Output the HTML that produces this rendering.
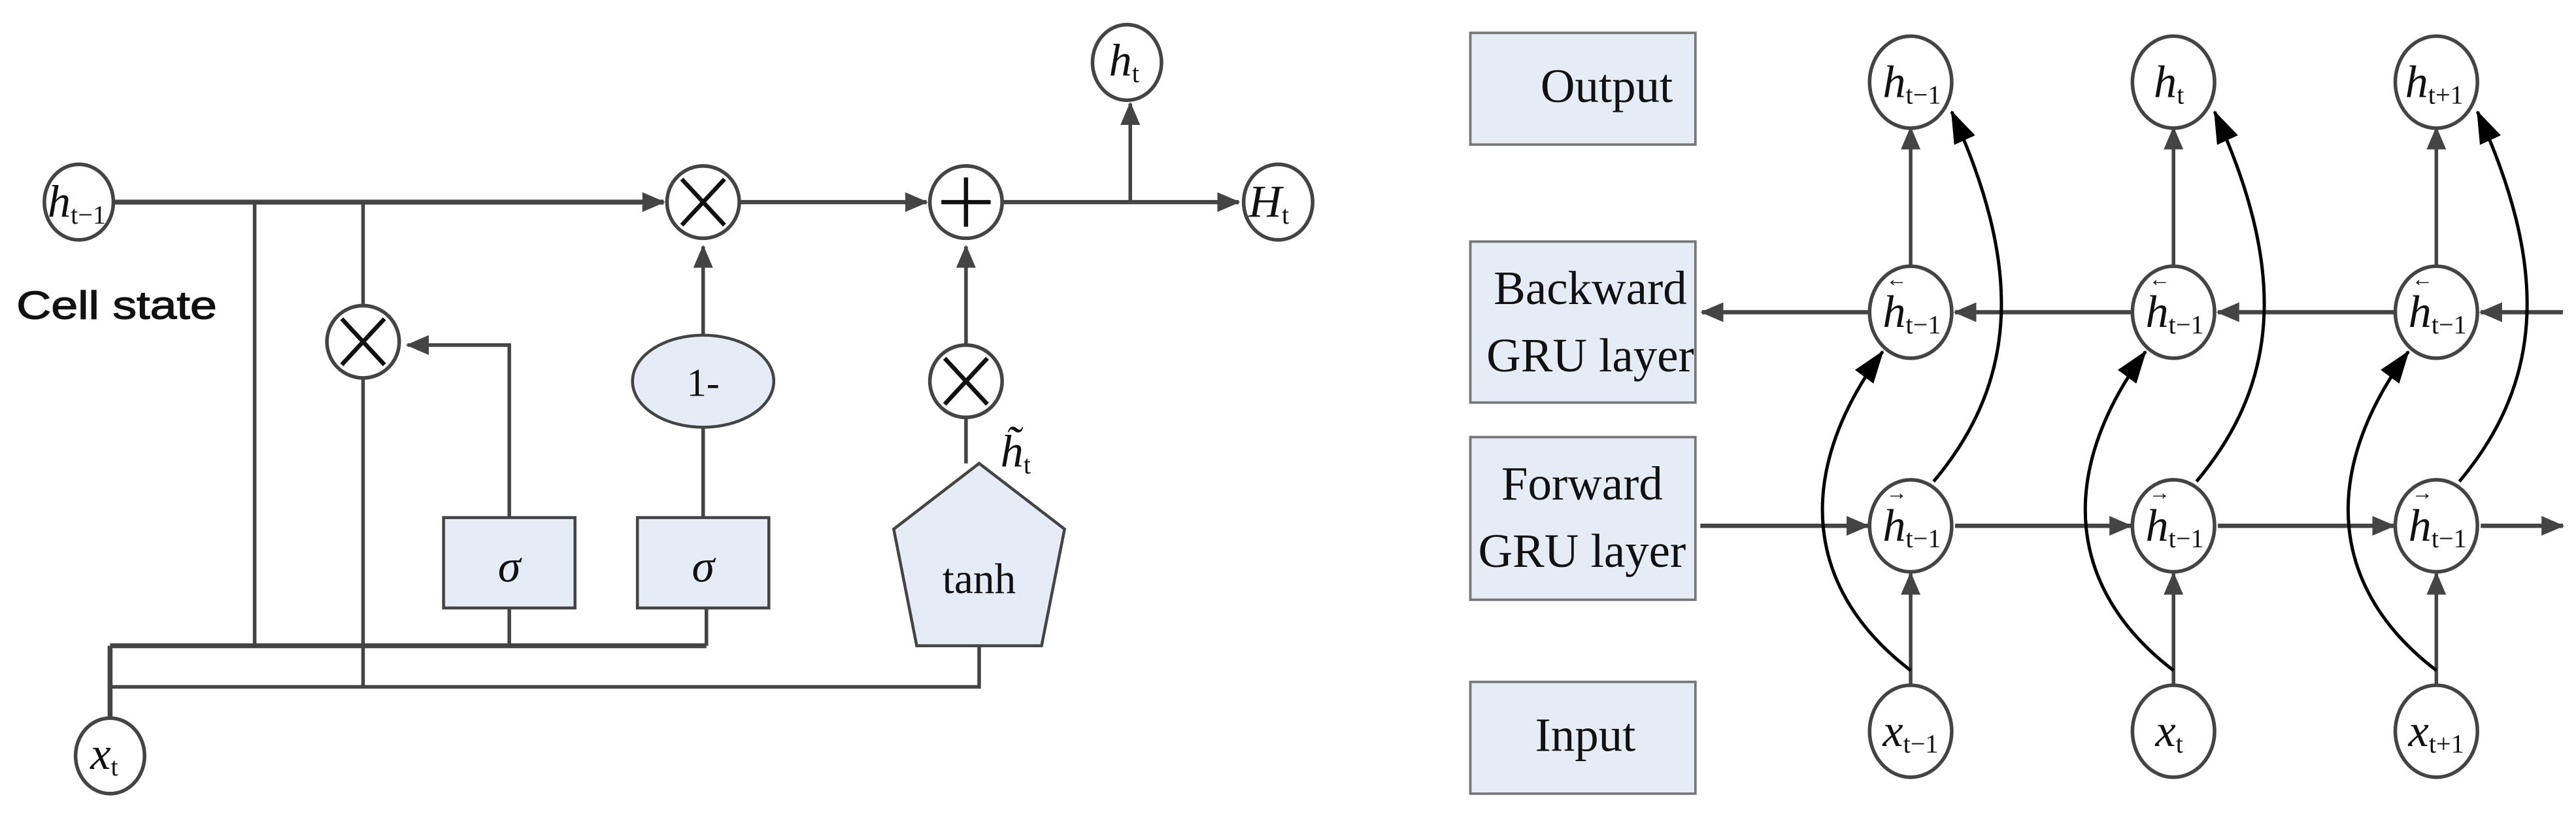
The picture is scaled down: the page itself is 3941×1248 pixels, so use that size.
<!DOCTYPE html>
<html><head><meta charset="utf-8"><style>
html,body{margin:0;padding:0;background:#fff;}
svg{display:block;}
text{font-family:"Liberation Serif",serif;fill:#111;}
</style></head><body>
<svg width="3941" height="1248" viewBox="0 0 1568 496.6" preserveAspectRatio="none" xmlns="http://www.w3.org/2000/svg">
<defs>
<marker id="ag" markerWidth="14" markerHeight="12" refX="13" refY="6" orient="auto" markerUnits="userSpaceOnUse" viewBox="0 0 14 12"><path d="M0,0 L14,6 L0,12 Z" fill="#444"/></marker>
<marker id="ab" markerWidth="20" markerHeight="14" refX="19" refY="7" orient="auto" markerUnits="userSpaceOnUse" viewBox="0 0 20 14"><path d="M0,0 L20,7 L0,14 Z" fill="#000"/></marker>
</defs>
<g stroke="#444" stroke-width="2.2" fill="none">
<line x1="69" y1="123" x2="404" y2="123" stroke-width="3" marker-end="url(#ag)"/>
<line x1="451" y1="123" x2="564" y2="123" stroke-width="2.6" marker-end="url(#ag)"/>
<line x1="611" y1="123" x2="754" y2="123" stroke-width="2.6" marker-end="url(#ag)"/>
<line x1="688" y1="123" x2="688" y2="63" marker-end="url(#ag)"/>
<line x1="155" y1="123" x2="155" y2="393"/>
<line x1="221" y1="123" x2="221" y2="186"/>
<line x1="221" y1="230" x2="221" y2="418"/>
<polyline points="310,315 310,210 248,210" marker-end="url(#ag)"/>
<line x1="428" y1="315" x2="428" y2="260"/>
<line x1="428" y1="204" x2="428" y2="150" marker-end="url(#ag)"/>
<line x1="588" y1="210" x2="588" y2="150" marker-end="url(#ag)"/>
<line x1="588" y1="254" x2="588" y2="282"/>
<line x1="67" y1="393" x2="430" y2="393" stroke-width="3"/>
<line x1="310" y1="370" x2="310" y2="393"/>
<line x1="430" y1="370" x2="430" y2="393"/>
<polyline points="67,418 596,418 596,393"/>
<line x1="67" y1="393" x2="67" y2="438" stroke-width="3"/>
<g fill="#fff" stroke-width="2.2">
<ellipse cx="48" cy="123" rx="21" ry="23"/>
<circle cx="428" cy="123" r="22"/>
<circle cx="588" cy="123" r="22"/>
<ellipse cx="778" cy="123" rx="21" ry="23"/>
<ellipse cx="686" cy="38" rx="21" ry="23"/>
<circle cx="221" cy="208" r="22"/>
<circle cx="588" cy="232" r="22"/>
<ellipse cx="67" cy="460" rx="21" ry="23"/>
</g>
<g fill="#e6ecf6" stroke-width="1.8">
<rect x="270" y="315" width="80" height="55"/>
<rect x="388" y="315" width="80" height="55"/>
<ellipse cx="428" cy="232" rx="43" ry="28"/>
<polygon points="596,282 648,322 634,393 558,393 544,322"/>
</g>
<g stroke="#111" stroke-width="2.6">
<path d="M415,109 L441,137 M441,109 L415,137"/>
<path d="M208,194 L234,222 M234,194 L208,222"/>
<path d="M575,218 L601,246 M601,218 L575,246"/>
<path d="M573,123 L603,123 M588,108 L588,138"/>
</g>
<g fill="#e6ecf6" stroke="#777" stroke-width="1.5">
<rect x="895" y="20" width="137" height="68"/>
<rect x="895" y="147" width="137" height="98"/>
<rect x="895" y="266" width="137" height="99"/>
<rect x="895" y="415" width="137" height="68"/>
</g>
<g stroke-width="2.6">
<line x1="1137" y1="190" x2="1036" y2="190" marker-end="url(#ag)"/>
<line x1="1297" y1="190" x2="1190" y2="190" marker-end="url(#ag)"/>
<line x1="1457" y1="190" x2="1350" y2="190" marker-end="url(#ag)"/>
<line x1="1560" y1="190" x2="1510" y2="190" marker-end="url(#ag)"/>
<line x1="1035" y1="320" x2="1137" y2="320" marker-end="url(#ag)"/>
<line x1="1190" y1="320" x2="1297" y2="320" marker-end="url(#ag)"/>
<line x1="1350" y1="320" x2="1457" y2="320" marker-end="url(#ag)"/>
<line x1="1510" y1="320" x2="1560" y2="320" marker-end="url(#ag)"/>
</g>
<g stroke-width="2.2">
<line x1="1163" y1="418" x2="1163" y2="349" marker-end="url(#ag)"/>
<line x1="1323" y1="418" x2="1323" y2="349" marker-end="url(#ag)"/>
<line x1="1483" y1="418" x2="1483" y2="349" marker-end="url(#ag)"/>
<line x1="1163" y1="161" x2="1163" y2="78" marker-end="url(#ag)"/>
<line x1="1323" y1="161" x2="1323" y2="78" marker-end="url(#ag)"/>
<line x1="1483" y1="161" x2="1483" y2="78" marker-end="url(#ag)"/>
</g>
<g stroke="#000" stroke-width="2">
<path d="M1163,408 C1100,360 1090,290 1146,214" marker-end="url(#ab)"/>
<path d="M1323,408 C1260,360 1250,290 1306,214" marker-end="url(#ab)"/>
<path d="M1483,408 C1420,360 1410,290 1466,214" marker-end="url(#ab)"/>
<path d="M1177,293 C1230,230 1230,160 1188,68" marker-end="url(#ab)"/>
<path d="M1337,293 C1390,230 1390,160 1348,68" marker-end="url(#ab)"/>
<path d="M1497,293 C1550,230 1550,160 1508,68" marker-end="url(#ab)"/>
</g>
<g fill="#fff" stroke-width="2.2">
<ellipse cx="1163" cy="50" rx="25" ry="28"/>
<ellipse cx="1323" cy="50" rx="25" ry="28"/>
<ellipse cx="1483" cy="50" rx="25" ry="28"/>
<ellipse cx="1163" cy="190" rx="25" ry="28"/>
<ellipse cx="1323" cy="190" rx="25" ry="28"/>
<ellipse cx="1483" cy="190" rx="25" ry="28"/>
<ellipse cx="1163" cy="320" rx="25" ry="28"/>
<ellipse cx="1323" cy="320" rx="25" ry="28"/>
<ellipse cx="1483" cy="320" rx="25" ry="28"/>
<ellipse cx="1163" cy="445" rx="25" ry="28"/>
<ellipse cx="1323" cy="445" rx="25" ry="28"/>
<ellipse cx="1483" cy="445" rx="25" ry="28"/>
</g>
</g>
<text x="10" y="194" style="font-family:'Liberation Sans',sans-serif;font-size:24px" stroke="#111" stroke-width="0.5" textLength="122" lengthAdjust="spacingAndGlyphs">Cell state</text>
<g font-size="28">
<text x="29" y="132" font-style="italic">h<tspan font-size="16" font-style="normal" dy="4">t−1</tspan></text>
<text x="675" y="46" font-style="italic">h<tspan font-size="16" font-style="normal" dy="4">t</tspan></text>
<text x="760" y="132" font-style="italic">H<tspan font-size="16" font-style="normal" dy="4">t</tspan></text>
<text x="55" y="468" font-style="italic">x<tspan font-size="16" font-style="normal" dy="4">t</tspan></text>
<text x="609" y="284" font-style="italic">h̃<tspan font-size="16" font-style="normal" dy="4">t</tspan></text>
<text x="310" y="354" font-style="italic" text-anchor="middle">σ</text>
<text x="428" y="354" font-style="italic" text-anchor="middle">σ</text>
<text x="428" y="241" text-anchor="middle" font-size="24">1-</text>
<text x="596" y="361" text-anchor="middle" font-size="26">tanh</text>
</g>
<g font-size="29" text-anchor="middle">
<text x="978" y="62">Output</text>
<text x="968" y="185">Backward</text>
<text x="968" y="226">GRU layer</text>
<text x="963" y="304">Forward</text>
<text x="963" y="345">GRU layer</text>
<text x="965" y="457">Input</text>
</g>
<g font-size="28" font-style="italic">
<text x="1146" y="59">h<tspan font-size="16" font-style="normal" dy="4">t−1</tspan></text>
<text x="1311" y="59">h<tspan font-size="16" font-style="normal" dy="4">t</tspan></text>
<text x="1464" y="59">h<tspan font-size="16" font-style="normal" dy="4">t+1</tspan></text>
<text x="1146" y="199">h<tspan font-size="16" font-style="normal" dy="4">t−1</tspan></text>
<text x="1306" y="199">h<tspan font-size="16" font-style="normal" dy="4">t−1</tspan></text>
<text x="1466" y="199">h<tspan font-size="16" font-style="normal" dy="4">t−1</tspan></text>
<text x="1146" y="329">h<tspan font-size="16" font-style="normal" dy="4">t−1</tspan></text>
<text x="1306" y="329">h<tspan font-size="16" font-style="normal" dy="4">t−1</tspan></text>
<text x="1466" y="329">h<tspan font-size="16" font-style="normal" dy="4">t−1</tspan></text>
<text x="1146" y="454">x<tspan font-size="16" font-style="normal" dy="4">t−1</tspan></text>
<text x="1312" y="454">x<tspan font-size="16" font-style="normal" dy="4">t</tspan></text>
<text x="1466" y="454">x<tspan font-size="16" font-style="normal" dy="4">t+1</tspan></text>
</g>
<g font-size="13">
<text x="1148" y="174">←</text><text x="1308" y="174">←</text><text x="1468" y="174">←</text>
<text x="1148" y="304">→</text><text x="1308" y="304">→</text><text x="1468" y="304">→</text>
</g>
</svg>
</body></html>
